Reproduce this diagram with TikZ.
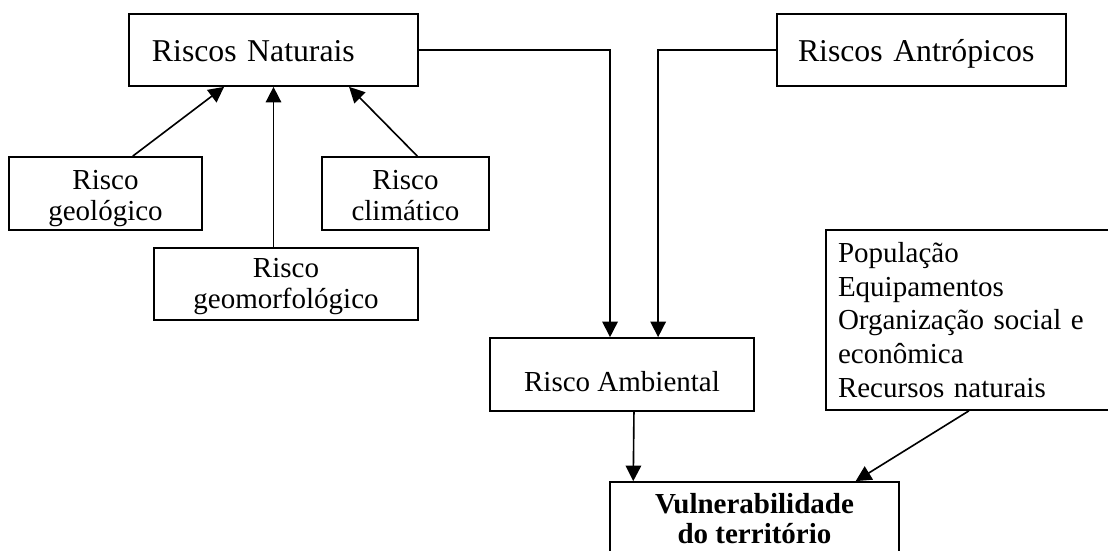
\documentclass[tikz,border=0pt]{standalone}
\usepackage{fontspec}
\setmainfont{Liberation Serif}
\usetikzlibrary{arrows.meta,calc}
\newcommand{\hstrut}[1]{\rule{0pt}{#1}}
\newcommand{\dstrut}[1]{\rule[-#1]{0pt}{#1}}
\tikzset{
  rbox/.style={draw,line width=0.7pt,inner sep=0pt,font=\fontsize{11.6pt}{12.4pt}\selectfont},
  topbox/.style={rbox,align=left,minimum height=28.8pt,text height=9.6pt,text depth=0pt,font=\fontsize{12.7pt}{14pt}\selectfont},
  arr/.style={-{Triangle[length=6.2pt,width=6.2pt]},line width=0.65pt}
}

\begin{document}
\begin{tikzpicture}[x=0.4pt,y=-0.4pt]
\useasboundingbox (0,0) rectangle (1108,551);
\clip (0,0) rectangle (1108,551);
\node[topbox,inner xsep=9.2pt,text width=97.2pt] (natur) at (273.5,50) {Riscos Naturais};
\node[topbox,inner xsep=8.4pt,text width=98.8pt] (antro) at (921.5,50) {Riscos Antrópicos};
\node[rbox,align=center,minimum width=77.2pt,minimum height=29.2pt] (geol) at (105.5,193.5) {\hstrut{12.8pt}Risco\\geológico\dstrut{3.2pt}};
\node[rbox,align=center,minimum width=66.8pt,minimum height=29.2pt] (clim) at (405.5,193.5) {\hstrut{12.8pt}Risco\\climático\dstrut{3.2pt}};
\node[rbox,align=center,minimum width=105.6pt,minimum height=28.8pt] (geomorf) at (286,284) {\hstrut{10.8pt}Risco\\geomorfológico\dstrut{3.2pt}};
\node[rbox,minimum width=105.6pt,minimum height=29.2pt,text height=14pt,text depth=0pt] (amb) at (622,374.5) {Risco Ambiental};
\node[rbox,inner xsep=4.8pt,text width=108pt,align=left,minimum height=72pt,font=\fontsize{11.6pt}{13.5pt}\selectfont] (pop) at (973,320)
  {População\\Equipamentos\\Organização social e\\econômica\\Recursos naturais};
\node[rbox,align=center,minimum width=115.6pt,minimum height=29.6pt,font=\fontsize{11.6pt}{12pt}\selectfont\bfseries] (vuln) at (754.5,519) {Vulnerabilidade\\do território};

\draw[arr] ($(geol.north west)!0.64!(geol.north east)$) -- ($(natur.south west)!0.33!(natur.south east)$);
\draw[arr] (geomorf.north -| natur.south) -- (natur.south);
\draw[arr] ($(clim.north west)!0.57!(clim.north east)$) -- ($(natur.south west)!0.76!(natur.south east)$);
\draw[arr] (natur.east) -| ($(amb.north west)!0.455!(amb.north east)$);
\draw[arr] (antro.west) -| ($(amb.north west)!0.636!(amb.north east)$);
\draw[arr] ($(amb.south west)!0.545!(amb.south east)$) -- ($(vuln.north west)!0.083!(vuln.north east)$);
\draw[arr] ($(pop.south west)!0.486!(pop.south east)$) -- ($(vuln.north west)!0.848!(vuln.north east)$);
\end{tikzpicture}
\end{document}
